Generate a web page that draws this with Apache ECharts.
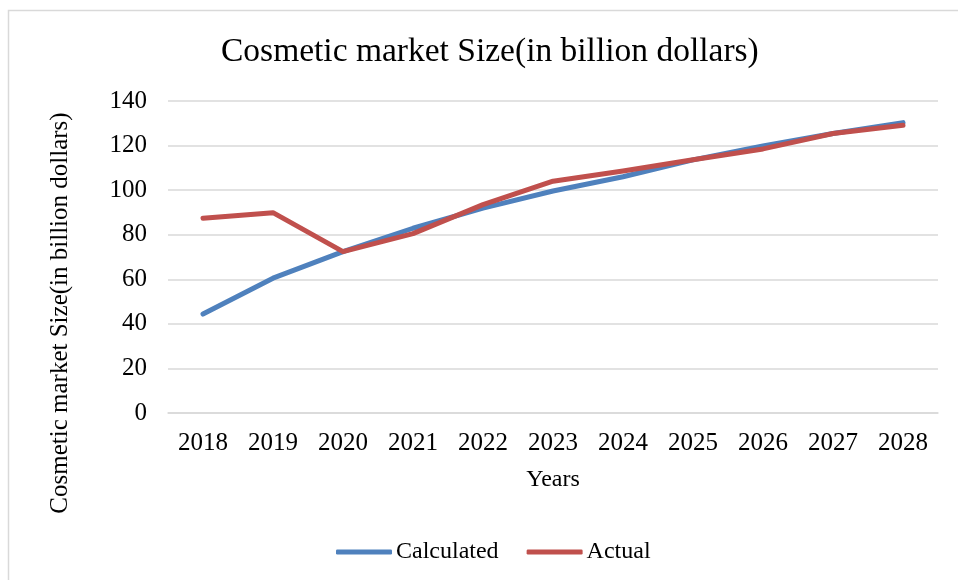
<!DOCTYPE html>
<html>
<head>
<meta charset="utf-8">
<script src="https://cdn.jsdelivr.net/npm/echarts@6/dist/echarts.min.js"></script>
<style>
  html, body { margin: 0; padding: 0; background: #fff; }
  #chart { width: 958px; height: 580px; }
</style>
</head>
<body>
<div id="chart"></div>
<script>
// Years on the category axis
const years = ['2018', '2019', '2020', '2021', '2022', '2023', '2024', '2025', '2026', '2027', '2028'];
// Market size, billion dollars
const calculated = [44.4, 60.5, 72.4, 82.9, 91.9, 99.6, 106.0, 113.6, 119.8, 125.4, 130.3];
const actual = [87.4, 89.9, 72.4, 80.5, 93.5, 104.0, 108.6, 113.6, 118.5, 125.4, 129.1];
const seriesNames = ['Calculated', 'Actual'];
const yTicks = { min: 0, max: 140, interval: 20 };

const FONT = '"Liberation Serif", "DejaVu Serif", serif';
const BLUE = '#4F81BD';
const RED = '#C0504D';

const chart = echarts.init(document.getElementById('chart'), null, { renderer: 'canvas' });

chart.setOption({
  backgroundColor: '#ffffff',
  animation: false,
  title: {
    text: 'Cosmetic market Size(in billion dollars)',
    left: 216,
    top: 30,
    textStyle: { fontFamily: FONT, fontSize: 33.5, fontWeight: 'normal', color: '#000' }
  },
  legend: {
    data: seriesNames,
    top: 535,
    left: 331,
    icon: 'roundRect',
    itemWidth: 56,
    itemHeight: 5,
    itemGap: 28,
    textStyle: { fontFamily: FONT, fontSize: 24, color: '#000', padding: [0, 0, 0, -1] }
  },
  grid: { left: 168, right: 20, top: 101, bottom: 167, containLabel: false },
  xAxis: {
    type: 'category',
    data: years,
    boundaryGap: true,
    name: 'Years',
    nameLocation: 'middle',
    nameGap: 55,
    nameTextStyle: { fontFamily: FONT, fontSize: 24, color: '#000' },
    axisLine: { show: true, lineStyle: { color: '#d9d9d9', width: 1.5 } },
    axisTick: { show: false },
    axisLabel: { fontFamily: FONT, fontSize: 25, color: '#000', margin: 18 }
  },
  yAxis: {
    type: 'value',
    min: yTicks.min,
    max: yTicks.max,
    interval: yTicks.interval,
    axisLine: { show: false },
    axisTick: { show: false },
    splitLine: { lineStyle: { color: '#d9d9d9', width: 1.5 } },
    axisLabel: { fontFamily: FONT, fontSize: 25, color: '#000', margin: 21 }
  },
  graphic: [
    {
      type: 'rect',
      shape: { x: 8.5, y: 10.5, width: 960, height: 580 },
      style: { fill: 'none', stroke: '#d9d9d9', lineWidth: 1.5 },
      silent: true
    },
    {
      type: 'text',
      x: 60,
      y: 313,
      rotation: Math.PI / 2,
      style: {
        text: 'Cosmetic market Size(in billion dollars)',
        font: '25px ' + FONT,
        fill: '#000',
        align: 'center',
        verticalAlign: 'middle'
      },
      silent: true
    }
  ],
  series: [
    {
      name: seriesNames[0],
      type: 'line',
      data: calculated,
      showSymbol: false,
      symbol: 'none',
      itemStyle: { color: BLUE },
      lineStyle: { color: BLUE, width: 5, cap: 'round', join: 'round' }
    },
    {
      name: seriesNames[1],
      type: 'line',
      data: actual,
      showSymbol: false,
      symbol: 'none',
      itemStyle: { color: RED },
      lineStyle: { color: RED, width: 5, cap: 'round', join: 'round' }
    }
  ]
});
</script>
</body>
</html>
